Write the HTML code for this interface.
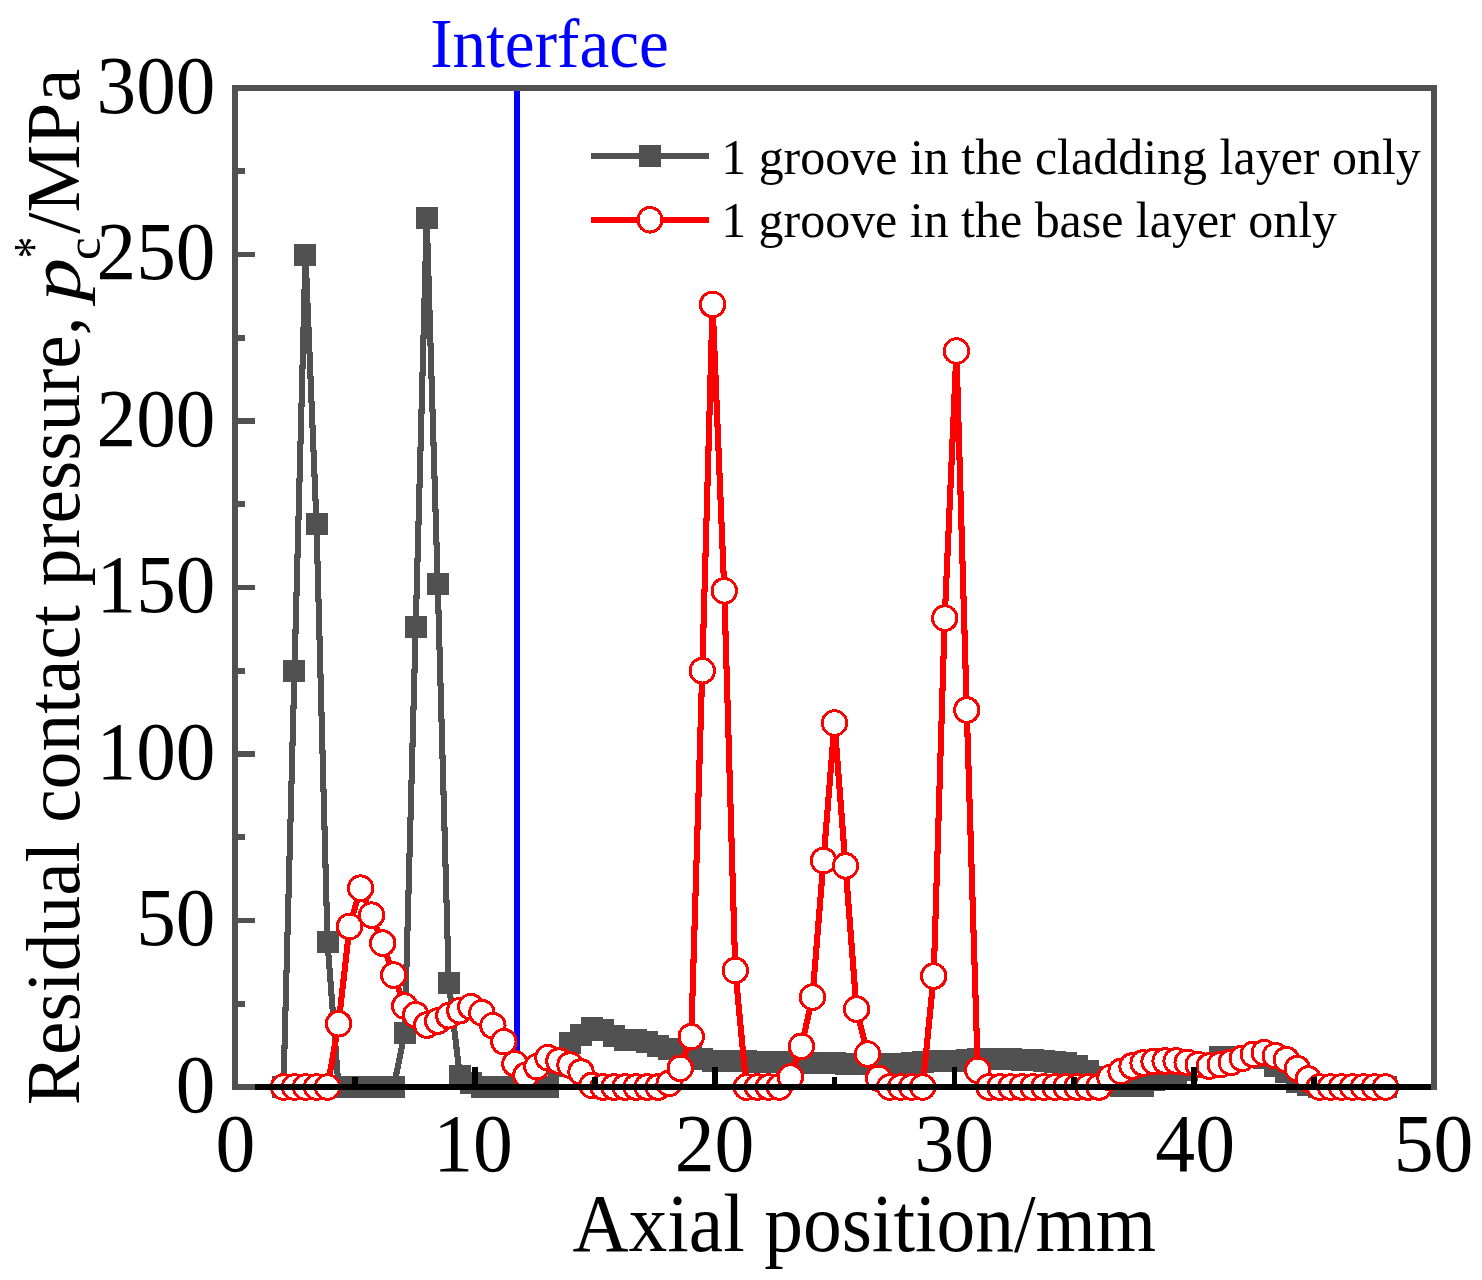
<!DOCTYPE html>
<html><head><meta charset="utf-8"><title>Residual contact pressure</title>
<style>html,body{margin:0;padding:0;background:#fff}body{width:1482px;height:1280px;overflow:hidden}svg{display:block}text{font-family:"Liberation Serif",serif;fill:#000}</style>
</head><body>
<svg shape-rendering="crispEdges" width="1482" height="1280" viewBox="0 0 1482 1280">
<rect width="1482" height="1280" fill="#fff"/>
<rect x="514.00" y="88.0" width="6" height="999.0" fill="#0000ff"/>
<rect x="235.0" y="88.0" width="1199.0" height="999.0" fill="none" stroke="#515151" stroke-width="6"/>
<rect x="235.0" y="1084.10" width="20" height="5.8" fill="#515151"/>
<rect x="235.0" y="1000.85" width="10" height="5.8" fill="#515151"/>
<rect x="235.0" y="917.60" width="20" height="5.8" fill="#515151"/>
<rect x="235.0" y="834.35" width="10" height="5.8" fill="#515151"/>
<rect x="235.0" y="751.10" width="20" height="5.8" fill="#515151"/>
<rect x="235.0" y="667.85" width="10" height="5.8" fill="#515151"/>
<rect x="235.0" y="584.60" width="20" height="5.8" fill="#515151"/>
<rect x="235.0" y="501.35" width="10" height="5.8" fill="#515151"/>
<rect x="235.0" y="418.10" width="20" height="5.8" fill="#515151"/>
<rect x="235.0" y="334.85" width="10" height="5.8" fill="#515151"/>
<rect x="235.0" y="251.60" width="20" height="5.8" fill="#515151"/>
<rect x="235.0" y="168.35" width="10" height="5.8" fill="#515151"/>
<rect x="235.0" y="85.10" width="20" height="5.8" fill="#515151"/>
<polyline points="283.45,1087.00 294.47,670.75 305.49,254.50 316.51,524.23 327.53,942.48 338.55,1087.00 349.57,1087.00 360.60,1087.00 371.62,1087.00 382.64,1087.00 393.66,1087.00 404.68,1033.05 415.70,627.46 426.72,217.87 437.74,584.17 448.77,982.77 459.79,1075.68 470.81,1083.00 481.83,1087.00 492.85,1087.00 503.87,1087.00 514.89,1087.00 525.91,1087.00 536.93,1087.00 547.96,1087.00 558.98,1066.35 570.00,1043.04 581.02,1034.72 592.04,1027.73 603.06,1030.39 614.08,1035.72 625.10,1040.38 636.12,1040.38 647.15,1042.38 658.17,1046.37 669.19,1049.04 680.21,1053.03 691.23,1056.36 702.25,1058.69 713.27,1061.03 724.29,1061.03 735.31,1061.03 746.34,1061.36 757.36,1061.69 768.38,1061.69 779.40,1061.69 790.42,1062.03 801.44,1062.36 812.46,1062.69 823.48,1063.02 834.50,1063.36 845.53,1063.69 856.55,1064.02 867.57,1064.02 878.59,1064.36 889.61,1064.36 900.63,1064.36 911.65,1063.36 922.67,1062.19 933.70,1061.36 944.72,1061.36 955.74,1061.36 966.76,1060.03 977.78,1059.19 988.80,1059.36 999.82,1059.36 1010.84,1059.36 1021.86,1059.69 1032.89,1060.03 1043.91,1060.69 1054.93,1061.69 1065.95,1063.02 1076.97,1065.69 1087.99,1071.35 1099.01,1077.34 1110.03,1083.67 1121.05,1085.67 1132.08,1085.67 1143.10,1085.67 1154.12,1080.34 1165.14,1076.34 1176.16,1072.68 1187.18,1069.68 1198.20,1067.02 1209.22,1064.36 1220.24,1057.03 1231.27,1057.03 1242.29,1057.03 1253.31,1057.03 1264.33,1057.70 1275.35,1066.02 1286.37,1072.35 1297.39,1082.17 1308.41,1084.67 1319.44,1087.00 1330.46,1087.00 1341.48,1087.00 1352.50,1087.00 1363.52,1087.00 1374.54,1087.00 1385.56,1087.00" fill="none" stroke="#515151" stroke-width="6.1" stroke-linejoin="round"/>
<path d="M272.45 1076.00h22.0v22.0h-22.0zM283.47 659.75h22.0v22.0h-22.0zM294.49 243.50h22.0v22.0h-22.0zM305.51 513.23h22.0v22.0h-22.0zM316.53 931.48h22.0v22.0h-22.0zM327.55 1076.00h22.0v22.0h-22.0zM338.57 1076.00h22.0v22.0h-22.0zM349.60 1076.00h22.0v22.0h-22.0zM360.62 1076.00h22.0v22.0h-22.0zM371.64 1076.00h22.0v22.0h-22.0zM382.66 1076.00h22.0v22.0h-22.0zM393.68 1022.05h22.0v22.0h-22.0zM404.70 616.46h22.0v22.0h-22.0zM415.72 206.87h22.0v22.0h-22.0zM426.74 573.17h22.0v22.0h-22.0zM437.77 971.77h22.0v22.0h-22.0zM448.79 1064.68h22.0v22.0h-22.0zM459.81 1072.00h22.0v22.0h-22.0zM470.83 1076.00h22.0v22.0h-22.0zM481.85 1076.00h22.0v22.0h-22.0zM492.87 1076.00h22.0v22.0h-22.0zM503.89 1076.00h22.0v22.0h-22.0zM514.91 1076.00h22.0v22.0h-22.0zM525.93 1076.00h22.0v22.0h-22.0zM536.96 1076.00h22.0v22.0h-22.0zM547.98 1055.35h22.0v22.0h-22.0zM559.00 1032.04h22.0v22.0h-22.0zM570.02 1023.72h22.0v22.0h-22.0zM581.04 1016.73h22.0v22.0h-22.0zM592.06 1019.39h22.0v22.0h-22.0zM603.08 1024.72h22.0v22.0h-22.0zM614.10 1029.38h22.0v22.0h-22.0zM625.12 1029.38h22.0v22.0h-22.0zM636.15 1031.38h22.0v22.0h-22.0zM647.17 1035.37h22.0v22.0h-22.0zM658.19 1038.04h22.0v22.0h-22.0zM669.21 1042.03h22.0v22.0h-22.0zM680.23 1045.36h22.0v22.0h-22.0zM691.25 1047.69h22.0v22.0h-22.0zM702.27 1050.03h22.0v22.0h-22.0zM713.29 1050.03h22.0v22.0h-22.0zM724.31 1050.03h22.0v22.0h-22.0zM735.34 1050.36h22.0v22.0h-22.0zM746.36 1050.69h22.0v22.0h-22.0zM757.38 1050.69h22.0v22.0h-22.0zM768.40 1050.69h22.0v22.0h-22.0zM779.42 1051.03h22.0v22.0h-22.0zM790.44 1051.36h22.0v22.0h-22.0zM801.46 1051.69h22.0v22.0h-22.0zM812.48 1052.02h22.0v22.0h-22.0zM823.50 1052.36h22.0v22.0h-22.0zM834.53 1052.69h22.0v22.0h-22.0zM845.55 1053.02h22.0v22.0h-22.0zM856.57 1053.02h22.0v22.0h-22.0zM867.59 1053.36h22.0v22.0h-22.0zM878.61 1053.36h22.0v22.0h-22.0zM889.63 1053.36h22.0v22.0h-22.0zM900.65 1052.36h22.0v22.0h-22.0zM911.67 1051.19h22.0v22.0h-22.0zM922.70 1050.36h22.0v22.0h-22.0zM933.72 1050.36h22.0v22.0h-22.0zM944.74 1050.36h22.0v22.0h-22.0zM955.76 1049.03h22.0v22.0h-22.0zM966.78 1048.19h22.0v22.0h-22.0zM977.80 1048.36h22.0v22.0h-22.0zM988.82 1048.36h22.0v22.0h-22.0zM999.84 1048.36h22.0v22.0h-22.0zM1010.86 1048.69h22.0v22.0h-22.0zM1021.89 1049.03h22.0v22.0h-22.0zM1032.91 1049.69h22.0v22.0h-22.0zM1043.93 1050.69h22.0v22.0h-22.0zM1054.95 1052.02h22.0v22.0h-22.0zM1065.97 1054.69h22.0v22.0h-22.0zM1076.99 1060.35h22.0v22.0h-22.0zM1088.01 1066.34h22.0v22.0h-22.0zM1099.03 1072.67h22.0v22.0h-22.0zM1110.05 1074.67h22.0v22.0h-22.0zM1121.08 1074.67h22.0v22.0h-22.0zM1132.10 1074.67h22.0v22.0h-22.0zM1143.12 1069.34h22.0v22.0h-22.0zM1154.14 1065.34h22.0v22.0h-22.0zM1165.16 1061.68h22.0v22.0h-22.0zM1176.18 1058.68h22.0v22.0h-22.0zM1187.20 1056.02h22.0v22.0h-22.0zM1198.22 1053.36h22.0v22.0h-22.0zM1209.24 1046.03h22.0v22.0h-22.0zM1220.27 1046.03h22.0v22.0h-22.0zM1231.29 1046.03h22.0v22.0h-22.0zM1242.31 1046.03h22.0v22.0h-22.0zM1253.33 1046.70h22.0v22.0h-22.0zM1264.35 1055.02h22.0v22.0h-22.0zM1275.37 1061.35h22.0v22.0h-22.0zM1286.39 1071.17h22.0v22.0h-22.0zM1297.41 1073.67h22.0v22.0h-22.0zM1308.44 1076.00h22.0v22.0h-22.0zM1319.46 1076.00h22.0v22.0h-22.0zM1330.48 1076.00h22.0v22.0h-22.0zM1341.50 1076.00h22.0v22.0h-22.0zM1352.52 1076.00h22.0v22.0h-22.0zM1363.54 1076.00h22.0v22.0h-22.0zM1374.56 1076.00h22.0v22.0h-22.0z" fill="#515151"/>
<polyline points="283.45,1087.00 294.47,1087.00 305.49,1087.00 316.51,1087.00 327.53,1087.00 338.55,1023.73 349.57,926.49 360.60,888.20 371.62,915.17 382.64,943.14 393.66,975.11 404.68,1006.08 415.70,1014.74 426.72,1025.06 437.74,1021.07 448.77,1015.74 459.79,1010.74 470.81,1006.75 481.83,1012.74 492.85,1025.73 503.87,1041.71 514.89,1063.69 525.91,1075.35 536.93,1066.69 547.96,1057.70 558.98,1061.03 570.00,1065.02 581.02,1072.02 592.04,1085.34 603.06,1087.00 614.08,1087.00 625.10,1087.00 636.12,1087.00 647.15,1087.00 658.17,1087.00 669.19,1083.34 680.21,1068.35 691.23,1036.72 702.25,670.75 712.57,304.45 724.29,590.83 735.31,970.45 746.34,1087.00 757.36,1087.00 768.38,1087.00 779.40,1087.00 790.42,1077.01 801.44,1046.37 812.46,997.09 823.48,860.56 834.50,723.03 845.53,865.89 856.55,1009.08 867.57,1054.03 878.59,1078.34 889.61,1087.00 900.63,1087.00 911.65,1087.00 922.67,1087.00 933.70,976.11 944.72,618.14 956.44,351.07 966.76,710.04 977.78,1070.35 988.80,1087.00 999.82,1087.00 1010.84,1087.00 1021.86,1087.00 1032.89,1087.00 1043.91,1087.00 1054.93,1087.00 1065.95,1087.00 1076.97,1087.00 1087.99,1087.00 1099.01,1087.00 1110.03,1077.68 1121.05,1071.35 1132.08,1066.02 1143.10,1063.02 1154.12,1061.36 1165.14,1061.03 1176.16,1061.03 1187.18,1062.36 1198.20,1064.69 1209.22,1066.02 1220.24,1064.69 1231.27,1062.36 1242.29,1058.36 1253.31,1054.37 1264.33,1052.70 1275.35,1055.70 1286.37,1059.69 1297.39,1068.68 1308.41,1079.01 1319.44,1087.00 1330.46,1087.00 1341.48,1087.00 1352.50,1087.00 1363.52,1087.00 1374.54,1087.00 1385.56,1087.00" fill="none" stroke="#ff0000" stroke-width="6.1" stroke-linejoin="round"/>
<g fill="#fff" stroke="#ff0000" stroke-width="3">
<ellipse cx="283.45" cy="1087.00" rx="12.2" ry="12.3"/>
<ellipse cx="294.47" cy="1087.00" rx="12.2" ry="12.3"/>
<ellipse cx="305.49" cy="1087.00" rx="12.2" ry="12.3"/>
<ellipse cx="316.51" cy="1087.00" rx="12.2" ry="12.3"/>
<ellipse cx="327.53" cy="1087.00" rx="12.2" ry="12.3"/>
<ellipse cx="338.55" cy="1023.73" rx="12.2" ry="12.3"/>
<ellipse cx="349.57" cy="926.49" rx="12.2" ry="12.3"/>
<ellipse cx="360.60" cy="888.20" rx="12.2" ry="12.3"/>
<ellipse cx="371.62" cy="915.17" rx="12.2" ry="12.3"/>
<ellipse cx="382.64" cy="943.14" rx="12.2" ry="12.3"/>
<ellipse cx="393.66" cy="975.11" rx="12.2" ry="12.3"/>
<ellipse cx="404.68" cy="1006.08" rx="12.2" ry="12.3"/>
<ellipse cx="415.70" cy="1014.74" rx="12.2" ry="12.3"/>
<ellipse cx="426.72" cy="1025.06" rx="12.2" ry="12.3"/>
<ellipse cx="437.74" cy="1021.07" rx="12.2" ry="12.3"/>
<ellipse cx="448.77" cy="1015.74" rx="12.2" ry="12.3"/>
<ellipse cx="459.79" cy="1010.74" rx="12.2" ry="12.3"/>
<ellipse cx="470.81" cy="1006.75" rx="12.2" ry="12.3"/>
<ellipse cx="481.83" cy="1012.74" rx="12.2" ry="12.3"/>
<ellipse cx="492.85" cy="1025.73" rx="12.2" ry="12.3"/>
<ellipse cx="503.87" cy="1041.71" rx="12.2" ry="12.3"/>
<ellipse cx="514.89" cy="1063.69" rx="12.2" ry="12.3"/>
<ellipse cx="525.91" cy="1075.35" rx="12.2" ry="12.3"/>
<ellipse cx="536.93" cy="1066.69" rx="12.2" ry="12.3"/>
<ellipse cx="547.96" cy="1057.70" rx="12.2" ry="12.3"/>
<ellipse cx="558.98" cy="1061.03" rx="12.2" ry="12.3"/>
<ellipse cx="570.00" cy="1065.02" rx="12.2" ry="12.3"/>
<ellipse cx="581.02" cy="1072.02" rx="12.2" ry="12.3"/>
<ellipse cx="592.04" cy="1085.34" rx="12.2" ry="12.3"/>
<ellipse cx="603.06" cy="1087.00" rx="12.2" ry="12.3"/>
<ellipse cx="614.08" cy="1087.00" rx="12.2" ry="12.3"/>
<ellipse cx="625.10" cy="1087.00" rx="12.2" ry="12.3"/>
<ellipse cx="636.12" cy="1087.00" rx="12.2" ry="12.3"/>
<ellipse cx="647.15" cy="1087.00" rx="12.2" ry="12.3"/>
<ellipse cx="658.17" cy="1087.00" rx="12.2" ry="12.3"/>
<ellipse cx="669.19" cy="1083.34" rx="12.2" ry="12.3"/>
<ellipse cx="680.21" cy="1068.35" rx="12.2" ry="12.3"/>
<ellipse cx="691.23" cy="1036.72" rx="12.2" ry="12.3"/>
<ellipse cx="702.25" cy="670.75" rx="12.2" ry="12.3"/>
<ellipse cx="712.57" cy="304.45" rx="12.2" ry="12.3"/>
<ellipse cx="724.29" cy="590.83" rx="12.2" ry="12.3"/>
<ellipse cx="735.31" cy="970.45" rx="12.2" ry="12.3"/>
<ellipse cx="746.34" cy="1087.00" rx="12.2" ry="12.3"/>
<ellipse cx="757.36" cy="1087.00" rx="12.2" ry="12.3"/>
<ellipse cx="768.38" cy="1087.00" rx="12.2" ry="12.3"/>
<ellipse cx="779.40" cy="1087.00" rx="12.2" ry="12.3"/>
<ellipse cx="790.42" cy="1077.01" rx="12.2" ry="12.3"/>
<ellipse cx="801.44" cy="1046.37" rx="12.2" ry="12.3"/>
<ellipse cx="812.46" cy="997.09" rx="12.2" ry="12.3"/>
<ellipse cx="823.48" cy="860.56" rx="12.2" ry="12.3"/>
<ellipse cx="834.50" cy="723.03" rx="12.2" ry="12.3"/>
<ellipse cx="845.53" cy="865.89" rx="12.2" ry="12.3"/>
<ellipse cx="856.55" cy="1009.08" rx="12.2" ry="12.3"/>
<ellipse cx="867.57" cy="1054.03" rx="12.2" ry="12.3"/>
<ellipse cx="878.59" cy="1078.34" rx="12.2" ry="12.3"/>
<ellipse cx="889.61" cy="1087.00" rx="12.2" ry="12.3"/>
<ellipse cx="900.63" cy="1087.00" rx="12.2" ry="12.3"/>
<ellipse cx="911.65" cy="1087.00" rx="12.2" ry="12.3"/>
<ellipse cx="922.67" cy="1087.00" rx="12.2" ry="12.3"/>
<ellipse cx="933.70" cy="976.11" rx="12.2" ry="12.3"/>
<ellipse cx="944.72" cy="618.14" rx="12.2" ry="12.3"/>
<ellipse cx="956.44" cy="351.07" rx="12.2" ry="12.3"/>
<ellipse cx="966.76" cy="710.04" rx="12.2" ry="12.3"/>
<ellipse cx="977.78" cy="1070.35" rx="12.2" ry="12.3"/>
<ellipse cx="988.80" cy="1087.00" rx="12.2" ry="12.3"/>
<ellipse cx="999.82" cy="1087.00" rx="12.2" ry="12.3"/>
<ellipse cx="1010.84" cy="1087.00" rx="12.2" ry="12.3"/>
<ellipse cx="1021.86" cy="1087.00" rx="12.2" ry="12.3"/>
<ellipse cx="1032.89" cy="1087.00" rx="12.2" ry="12.3"/>
<ellipse cx="1043.91" cy="1087.00" rx="12.2" ry="12.3"/>
<ellipse cx="1054.93" cy="1087.00" rx="12.2" ry="12.3"/>
<ellipse cx="1065.95" cy="1087.00" rx="12.2" ry="12.3"/>
<ellipse cx="1076.97" cy="1087.00" rx="12.2" ry="12.3"/>
<ellipse cx="1087.99" cy="1087.00" rx="12.2" ry="12.3"/>
<ellipse cx="1099.01" cy="1087.00" rx="12.2" ry="12.3"/>
<ellipse cx="1110.03" cy="1077.68" rx="12.2" ry="12.3"/>
<ellipse cx="1121.05" cy="1071.35" rx="12.2" ry="12.3"/>
<ellipse cx="1132.08" cy="1066.02" rx="12.2" ry="12.3"/>
<ellipse cx="1143.10" cy="1063.02" rx="12.2" ry="12.3"/>
<ellipse cx="1154.12" cy="1061.36" rx="12.2" ry="12.3"/>
<ellipse cx="1165.14" cy="1061.03" rx="12.2" ry="12.3"/>
<ellipse cx="1176.16" cy="1061.03" rx="12.2" ry="12.3"/>
<ellipse cx="1187.18" cy="1062.36" rx="12.2" ry="12.3"/>
<ellipse cx="1198.20" cy="1064.69" rx="12.2" ry="12.3"/>
<ellipse cx="1209.22" cy="1066.02" rx="12.2" ry="12.3"/>
<ellipse cx="1220.24" cy="1064.69" rx="12.2" ry="12.3"/>
<ellipse cx="1231.27" cy="1062.36" rx="12.2" ry="12.3"/>
<ellipse cx="1242.29" cy="1058.36" rx="12.2" ry="12.3"/>
<ellipse cx="1253.31" cy="1054.37" rx="12.2" ry="12.3"/>
<ellipse cx="1264.33" cy="1052.70" rx="12.2" ry="12.3"/>
<ellipse cx="1275.35" cy="1055.70" rx="12.2" ry="12.3"/>
<ellipse cx="1286.37" cy="1059.69" rx="12.2" ry="12.3"/>
<ellipse cx="1297.39" cy="1068.68" rx="12.2" ry="12.3"/>
<ellipse cx="1308.41" cy="1079.01" rx="12.2" ry="12.3"/>
<ellipse cx="1319.44" cy="1087.00" rx="12.2" ry="12.3"/>
<ellipse cx="1330.46" cy="1087.00" rx="12.2" ry="12.3"/>
<ellipse cx="1341.48" cy="1087.00" rx="12.2" ry="12.3"/>
<ellipse cx="1352.50" cy="1087.00" rx="12.2" ry="12.3"/>
<ellipse cx="1363.52" cy="1087.00" rx="12.2" ry="12.3"/>
<ellipse cx="1374.54" cy="1087.00" rx="12.2" ry="12.3"/>
<ellipse cx="1385.56" cy="1087.00" rx="12.2" ry="12.3"/>
</g>
<rect x="255" y="1084.0" width="1176" height="6" fill="#000"/>
<rect x="352.00" y="1077.0" width="5.8" height="10" fill="#000"/>
<rect x="471.90" y="1067.0" width="5.8" height="20" fill="#000"/>
<rect x="591.80" y="1077.0" width="5.8" height="10" fill="#000"/>
<rect x="711.70" y="1067.0" width="5.8" height="20" fill="#000"/>
<rect x="831.60" y="1077.0" width="5.8" height="10" fill="#000"/>
<rect x="951.50" y="1067.0" width="5.8" height="20" fill="#000"/>
<rect x="1071.40" y="1077.0" width="5.8" height="10" fill="#000"/>
<rect x="1191.30" y="1067.0" width="5.8" height="20" fill="#000"/>
<rect x="1311.20" y="1077.0" width="5.8" height="10" fill="#000"/>
<rect x="591.3" y="153" width="117.3" height="6" fill="#515151"/>
<rect x="638.9" y="145.2" width="21.8" height="21.7" fill="#515151"/>
<rect x="591.3" y="217" width="117.3" height="6" fill="#ff0000"/>
<ellipse cx="650" cy="219.8" rx="11.9" ry="12.3" fill="#fff" stroke="#ff0000" stroke-width="3"/>
<text transform="translate(721.13,173.80) scale(0.9815,1)" font-size="50.94">1 groove in the cladding layer only</text>
<text transform="translate(721.13,236.70) scale(0.9809,1)" font-size="50.94">1 groove in the base layer only</text>
<text transform="translate(430.25,66.70) scale(0.9624,1)" font-size="69.79" style="fill:#0000ff">Interface</text>
<text transform="translate(175.77,1111.80) scale(0.9670,1)" font-size="81.9">0</text>
<text transform="translate(136.17,945.30) scale(0.9670,1)" font-size="81.9">50</text>
<text transform="translate(96.57,778.80) scale(0.9670,1)" font-size="81.9">100</text>
<text transform="translate(96.57,612.30) scale(0.9670,1)" font-size="81.9">150</text>
<text transform="translate(96.57,445.80) scale(0.9670,1)" font-size="81.9">200</text>
<text transform="translate(96.57,279.30) scale(0.9670,1)" font-size="81.9">250</text>
<text transform="translate(96.57,112.80) scale(0.9670,1)" font-size="81.9">300</text>
<text transform="translate(215.38,1171.2) scale(0.9743,1)" font-size="81.8">0</text>
<text transform="translate(433.26,1171.2) scale(0.9743,1)" font-size="81.8">10</text>
<text transform="translate(674.75,1171.2) scale(0.9743,1)" font-size="81.8">20</text>
<text transform="translate(914.45,1171.2) scale(0.9743,1)" font-size="81.8">30</text>
<text transform="translate(1155.35,1171.2) scale(0.9743,1)" font-size="81.8">40</text>
<text transform="translate(1393.65,1171.2) scale(0.9743,1)" font-size="81.8">50</text>
<text transform="translate(572.62,1250.85) scale(0.9466,1)" font-size="81.89">Axial position/mm</text>
<text transform="translate(79.20,1105.16) rotate(-90) scale(1.0013,1)" font-size="75.27">Residual contact pressure,</text>
<text transform="translate(79.62,301.27) rotate(-90) scale(1.1956,1)" font-size="72.38" font-style="italic">p</text>
<text transform="translate(99.51,260.01) rotate(-90) scale(1.0403,1)" font-size="48.96">c</text>
<text transform="translate(51.29,258.44) rotate(-90) scale(0.7843,1)" font-size="55.78">*</text>
<text transform="translate(79.20,233.75) rotate(-90) scale(1.0119,1)" font-size="75.27">/MPa</text>
</svg></body></html>
